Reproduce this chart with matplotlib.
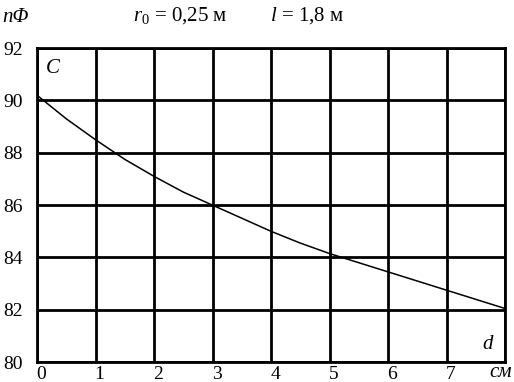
import numpy as np
import matplotlib.pyplot as plt
from matplotlib.transforms import ScaledTranslation

plt.rcParams["font.family"] = ["Liberation Serif", "DejaVu Serif"]
plt.rcParams["mathtext.fontset"] = "custom"
plt.rcParams["mathtext.rm"] = "Liberation Serif"
plt.rcParams["mathtext.it"] = "Liberation Serif:italic"

# distance d, cm  vs  capacitance C, nF
d_cm = [0, 0.5, 1, 1.5, 2, 2.5, 3, 3.5, 4, 4.5, 5, 5.5, 6, 6.5, 7, 7.5, 8]
c_nf = [90.2, 89.3, 88.5, 87.75, 87.1, 86.5, 86.0, 85.5, 85.0, 84.55,
        84.15, 83.8, 83.45, 83.1, 82.75, 82.4, 82.05]

x_ticks = [0, 1, 2, 3, 4, 5, 6, 7, 8]
x_labels = ["0", "1", "2", "3", "4", "5", "6", "7", ""]
y_ticks = [80, 82, 84, 86, 88, 90, 92]

fig = plt.figure(figsize=(5.14, 3.82), dpi=100)
ax = fig.add_axes([0.072, 0.052, 0.9105, 0.822])

ax.plot(d_cm, c_nf, color="black", lw=1.1)

ax.set_xlim(0, 8)
ax.set_ylim(80, 92)
ax.set_xticks(x_ticks)
ax.set_xticklabels(x_labels)
ax.set_yticks(y_ticks)
ax.grid(True, color="black", lw=2)
ax.tick_params(length=0, labelsize=14)
ax.tick_params(axis="x", pad=2.5)
ax.tick_params(axis="y", pad=10)
for s in ax.spines.values():
    s.set_linewidth(2)

# labels sit a bit right of their grid lines in the original
shift = ScaledTranslation(4 / 100, 0, fig.dpi_scale_trans)
for lab in ax.get_xticklabels():
    lab.set_transform(lab.get_transform() + shift)

ax.text(0.15, 91.6, "C", fontsize=15, style="italic", va="top")
ax.text(7.8, 80.3, "d", fontsize=15, style="italic", ha="right", va="bottom")
fig.text(0.975, 0.0, "см", fontsize=15, style="italic", ha="center", va="bottom")
fig.text(0.005, 0.955, "nΦ", fontsize=15, style="italic", va="center")
fig.text(0.35, 0.96, r"$r_0$ = 0,25 м", fontsize=15, va="center", ha="center")
fig.text(0.598, 0.96, r"$l$ = 1,8 м", fontsize=15, va="center", ha="center")

fig.savefig("out.png", dpi=100)
